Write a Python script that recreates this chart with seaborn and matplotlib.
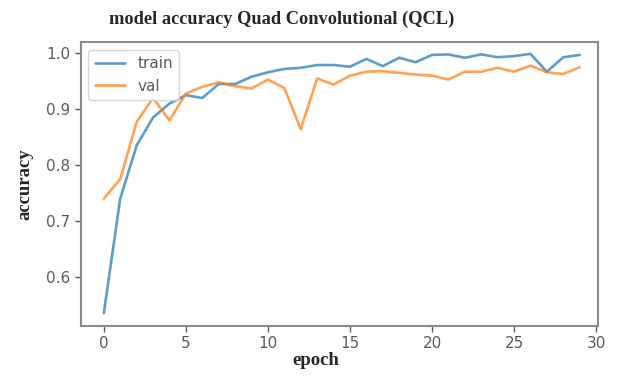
import pandas as pd
import matplotlib
matplotlib.use("Agg")
import matplotlib.pyplot as plt
import seaborn as sns

# accuracy values, one per epoch
epochs = list(range(30))
train_acc = [0.535, 0.740, 0.835, 0.885, 0.910, 0.925, 0.920, 0.945, 0.945, 0.958,
             0.966, 0.972, 0.974, 0.979, 0.979, 0.976, 0.990, 0.977, 0.992, 0.984,
             0.997, 0.998, 0.992, 0.998, 0.993, 0.995, 0.999, 0.967, 0.993, 0.997]
val_acc = [0.740, 0.775, 0.877, 0.920, 0.880, 0.928, 0.940, 0.948, 0.941, 0.937,
           0.953, 0.938, 0.864, 0.955, 0.944, 0.960, 0.967, 0.968, 0.965, 0.962,
           0.960, 0.953, 0.967, 0.967, 0.974, 0.967, 0.978, 0.966, 0.963, 0.975]
series_names = ["train", "val"]
x_ticks = [0, 5, 10, 15, 20, 25, 30]
y_ticks = [0.6, 0.7, 0.8, 0.9, 1.0]

df = pd.DataFrame({
    "epoch": epochs * 2,
    "accuracy": train_acc + val_acc,
    "split": [series_names[0]] * len(epochs) + [series_names[1]] * len(epochs),
})

sns.set_style("white")
fig = plt.figure(figsize=(6.22, 3.76), dpi=100)
ax = fig.add_axes([0.130, 0.133, 0.831, 0.755])

sns.lineplot(data=df, x="epoch", y="accuracy", hue="split",
             palette=["#1f77b4", "#ff7f0e"], linewidth=1.9, alpha=0.72, ax=ax)

ax.set_xlim(-1.4, 30.1)
ax.set_ylim(0.512, 1.02)
ax.set_xticks(x_ticks)
ax.set_yticks(y_ticks)
ax.set_yticklabels([f"{v:.1f}" for v in y_ticks])
ax.tick_params(axis="both", labelsize=11, colors="#5a5a5a", length=4,
               width=1, direction="out", bottom=True, left=True)
for spine in ax.spines.values():
    spine.set_color("#8a8a8a")
    spine.set_linewidth(1.5)

# the title and x label sit left of the axes centre in the reference
serif = {"family": "Liberation Serif", "weight": "bold"}
ax.set_title("model accuracy Quad Convolutional (QCL)", fontsize=13.2,
             fontdict=serif, x=0.389, pad=13)
ax.set_xlabel("epoch", fontsize=13.5, fontdict=serif)
ax.xaxis.set_label_coords(0.455, -0.09)
ax.set_ylabel("accuracy", fontsize=13.5, fontdict=serif, labelpad=9)

leg = ax.legend(loc="upper left", fontsize=11, frameon=True)
leg.get_frame().set_edgecolor("#cccccc")
for text in leg.get_texts():
    text.set_color("#5a5a5a")

fig.savefig("out.png", dpi=100)
